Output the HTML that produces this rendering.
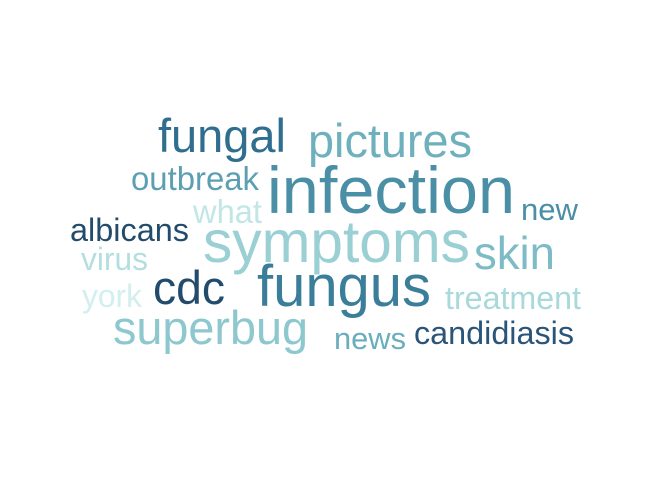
<!DOCTYPE html>
<html><head><meta charset="utf-8"><style>
html,body{margin:0;padding:0;background:#fff;width:672px;height:480px;overflow:hidden}
svg text{font-family:"Liberation Sans",Arial,sans-serif}
</style></head><body>
<svg id="cloud" width="672" height="480" viewBox="0 0 672 480"></svg>
<script>
const words=["fungal","pictures","infection","outbreak","new","what","albicans","symptoms","skin","virus","cdc","fungus","york","treatment","superbug","news","candidiasis"];
const sizes=[47,47,66,33,31,33,32,59,46,32,47,58,32,32,47,31,32];
const colors=["#2f6e8e","#6fb0bd","#4a8fa6","#5d9fb2","#4a8fa6","#c2e6e6","#234b6b","#9ad0d4","#7dbcc6","#b4dfe0","#234b6b","#3a7e9a","#d2eeee","#a8d9db","#8dc8cf","#6aaebe","#2a5578"];
const xs=[158,308,267,131,521,193,70,203,474,81,153,257,82,445,113,334,414];
const ys=[152,157,213,190,220,223,241,262,269,270,304,306,307,309,344,349,344];
const ws=[128,164,248,128,57,69,119,267,81,67,72,174,60,136,195,72,160];
const svg=document.getElementById('cloud');
words.forEach((w,i)=>{
  const t=document.createElementNS('http://www.w3.org/2000/svg','text');
  t.setAttribute('x',xs[i]);t.setAttribute('y',ys[i]);
  t.setAttribute('font-size',sizes[i]);t.setAttribute('fill',colors[i]);
  t.setAttribute('textLength',ws[i]);t.setAttribute('lengthAdjust','spacingAndGlyphs');
  
  
  t.textContent=w;svg.appendChild(t);
});
</script>
</body></html>
